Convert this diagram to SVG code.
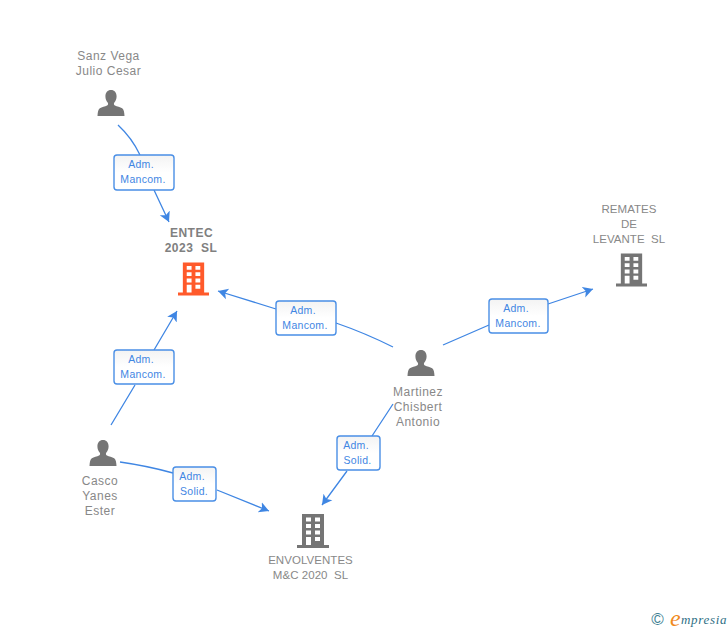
<svg xmlns="http://www.w3.org/2000/svg" width="728" height="630" viewBox="0 0 728 630">
<style>
.n{font:12px "Liberation Sans",Arial,sans-serif;fill:#888;text-anchor:middle;letter-spacing:.5px;white-space:pre}
.u{font-size:11.500px;letter-spacing:.05px}
.b{font-weight:bold;fill:#808080}
.c{fill:none;stroke:#3f86e3;stroke-width:1.3}
.l rect{fill:url(#g);stroke:#4a8fe6;stroke-width:1.4}
.l text{font:10.5px "Liberation Sans",Arial,sans-serif;fill:#3f86e3;text-anchor:middle;letter-spacing:.3px}
</style>
<defs>
<linearGradient id="g" x1="0" y1="0" x2="0" y2="1"><stop offset="0" stop-color="#f3f3f3"/><stop offset=".5" stop-color="#fff"/></linearGradient>
<marker id="a" markerUnits="userSpaceOnUse" markerWidth="14" markerHeight="14" refX="10" refY="6" orient="auto"><path d="M0 .5L10 6L0 11.500L2.500 6Z" fill="#3f86e3"/></marker>
<symbol id="p" viewBox="0 0 28 28" overflow="visible"><path d="M14 0c3.600 0 5.800 2.800 5.800 6.400 0 2.700-.9 5-2.300 6.500-.8 1-.6 2.500.6 3.100 2 1 5.500 1.600 7.500 3 1.800 1.300 2.200 4.500 2.400 8H0c.2-3.500.6-6.700 2.400-8 2-1.400 5.500-2 7.500-3 1.200-.6 1.400-2.100.6-3.100-1.400-1.500-2.300-3.800-2.300-6.500C8.200 2.800 10.400 0 14 0Z"/></symbol>
<symbol id="h" viewBox="0 0 32 34" overflow="visible"><path fill-rule="evenodd" d="M5 0H27V31H32V34H0V31H5ZM9 3.500V7.500H14V3.500ZM18 3.500V7.500H23V3.500ZM9 10V14H14V10ZM18 10V14H23V10ZM9 16.500V20.500H14V16.500ZM18 16.500V20.500H23V16.500ZM9 23V31H14V23ZM18 23V27H23V23Z"/></symbol>
</defs>
<g id="connectors">
<path class="c" d="M118 125Q132 138 140 155M154 190L169 222" marker-end="url(#a)"/>
<path class="c" d="M111 425L135 385M154 350L177 311" marker-end="url(#a)"/>
<path class="c" d="M393 347Q365 333 336 323M276 309L218 291" marker-end="url(#a)"/>
<path class="c" d="M443 345L489 325M548 304L593 289" marker-end="url(#a)"/>
<path class="c" d="M393 404L372 436M347 471L322 505" marker-end="url(#a)"/>
<path class="c" d="M120 462Q148 466 173 473M217 490L269 511" marker-end="url(#a)"/>
</g>
<g id="sanz"><text class="n"><tspan x="108.500" y="60">Sanz Vega</tspan><tspan x="108.500" y="75">Julio Cesar</tspan></text><use href="#p" x="97" y="90" width="28" height="27" fill="#757575"/></g>
<g id="entec"><text class="n b"><tspan x="191.500" y="237">ENTEC</tspan><tspan x="191" y="252">2023  SL</tspan></text><use href="#h" x="178" y="262" width="31" height="34" fill="#ff5a2b"/></g>
<g id="remates"><text class="n u"><tspan x="629" y="213">REMATES</tspan><tspan x="629" y="228">DE</tspan><tspan x="629" y="243">LEVANTE  SL</tspan></text><use href="#h" x="616" y="253" width="31" height="34" fill="#757575"/></g>
<g id="martinez"><use href="#p" x="407" y="350" width="28" height="27" fill="#757575"/><text class="n"><tspan x="418" y="396">Martinez</tspan><tspan x="418" y="411">Chisbert</tspan><tspan x="418" y="426">Antonio</tspan></text></g>
<g id="casco"><use href="#p" x="89" y="440" width="28" height="27" fill="#757575"/><text class="n"><tspan x="100" y="485">Casco</tspan><tspan x="100" y="500">Yanes</tspan><tspan x="100" y="515">Ester</tspan></text></g>
<g id="envolventes"><use href="#h" x="297" y="514" width="32" height="34" fill="#757575"/><text class="n u"><tspan x="310.500" y="564">ENVOLVENTES</tspan><tspan x="310.500" y="579">M&amp;C 2020  SL</tspan></text></g>
<g id="label1" class="l"><rect x="114" y="155" width="60" height="35" rx="3"/><text><tspan x="141" y="168">Adm.</tspan><tspan x="143" y="183">Mancom.</tspan></text></g>
<g id="label2" class="l"><rect x="114" y="350" width="60" height="34" rx="3"/><text><tspan x="141" y="363">Adm.</tspan><tspan x="143" y="378">Mancom.</tspan></text></g>
<g id="label3" class="l"><rect x="276" y="301" width="60" height="34" rx="3"/><text><tspan x="303" y="314">Adm.</tspan><tspan x="305" y="329">Mancom.</tspan></text></g>
<g id="label4" class="l"><rect x="489" y="299" width="59" height="34" rx="3"/><text><tspan x="516" y="312">Adm.</tspan><tspan x="518" y="327">Mancom.</tspan></text></g>
<g id="label5" class="l"><rect x="337" y="436" width="43" height="34" rx="3"/><text><tspan x="356" y="449">Adm.</tspan><tspan x="357.500" y="464">Solid.</tspan></text></g>
<g id="label6" class="l"><rect x="173" y="467" width="43" height="34" rx="3"/><text><tspan x="192" y="480">Adm.</tspan><tspan x="194" y="495">Solid.</tspan></text></g>
<g id="logo"><text x="657.500" y="625" style="font:17px 'Liberation Sans',sans-serif;fill:#3f7f93;text-anchor:middle">©</text><text x="670" y="626" style="font:italic 24px 'Liberation Serif',serif;fill:#f08a1d">e</text><text x="681" y="624" style="font:italic 13px 'Liberation Serif',serif;fill:#2f6f85;letter-spacing:.7px">mpresia</text></g>
</svg>
